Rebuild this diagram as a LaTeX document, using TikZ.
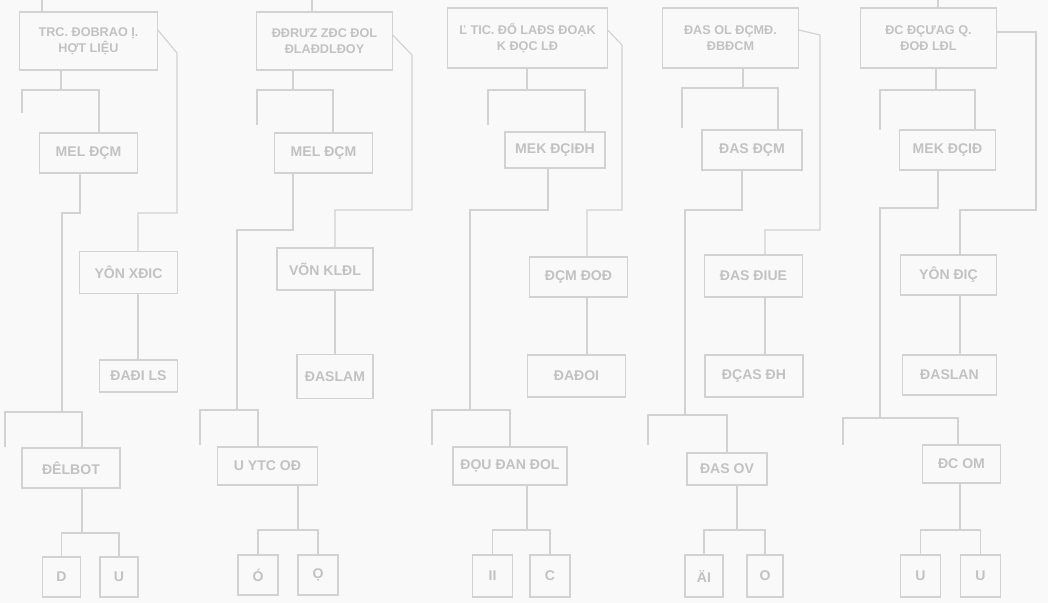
\documentclass[tikz,border=0pt]{standalone}
\usepackage{fontspec}
\setmainfont{Liberation Sans}
\usepackage{tikz}
\usetikzlibrary{positioning}
\definecolor{boxline}{HTML}{D2D2D2}
\definecolor{boxtext}{HTML}{C2C2C2}
\definecolor{paper}{HTML}{F9F9F9}
\tikzstyle{box} = [draw=boxline, line width=0.8pt, inner sep=1pt, text=boxtext, font=\fontsize{10}{12}\selectfont\bfseries, align=center]
\tikzstyle{topbox} = [box, font=\fontsize{9}{11}\selectfont\bfseries]
\tikzstyle{link} = [draw=boxline, line width=0.8pt]

\begin{document}
\begin{tikzpicture}[x=0.025cm, y=-0.025cm]
        % Bounding box
        \useasboundingbox (0,0) rectangle (1048,603);
        \fill[paper] (0,0) rectangle (1048,603);

        % Column 1
        \node[topbox, minimum width=3.43cm, minimum height=1.45cm] (c1top) at (88.5,41) {TRC. ĐOBRAO Ị.\\HỢT LIỆU};
        \node[box, minimum width=2.43cm, minimum height=1.0cm]  (c1a) at (88.5,153)  {MEL ĐÇM};
        \node[box, minimum width=2.43cm, minimum height=1.03cm] (c1b) at (128.5,272.5) {YÔN XĐIC};
        \node[box, minimum width=1.93cm, minimum height=0.8cm]  (c1c) at (138.5,376) {ĐAĐI LS};
        \node[box, minimum width=2.45cm, minimum height=1.0cm]  (c1d) at (71,468)    {ĐÊLBOT};
        \node[box, minimum width=0.93cm, minimum height=1.0cm]  (c1l) at (61.5,577)  {D};
        \node[box, minimum width=0.95cm, minimum height=1.0cm]  (c1r) at (119,577)   {U};

        \coordinate (c1in) at (42,0);
        \coordinate (c1s)  at (61,90);
        \coordinate (c1sl) at (22,113);
        \coordinate (c1sr) at (99,90);
        \coordinate (c1j)  at (80,213);
        \coordinate (c1k)  at (62,213);
        \coordinate (c1ml) at (5,447);
        \coordinate (c1mr) at (82,412);
        \coordinate (c1u)  at (177,53);
        \coordinate (c1v)  at (138,213);
        \coordinate (c1n)  at (82,533);

        \draw[link] (c1in) -- (c1top.north -| c1in);
        \draw[link] (c1top.south -| c1s) -- (c1s);
        \draw[link] (c1sl) |- (c1sr) -- (c1a.north -| c1sr);
        \draw[link] (c1a.south -| c1j) -- (c1j) -- (c1k) -- (c1k |- c1mr);
        \draw[link] (c1ml) |- (c1mr) -- (c1d.north -| c1mr);
        \draw[link] ([yshift=0.28cm]c1top.east) -- (c1u) |- (c1v) -- (c1b.north -| c1v);
        \draw[link] (c1b.south -| c1v) -- (c1c.north -| c1v);
        \draw[link] (c1d.south -| c1n) -- (c1n);
        \draw[link] (c1l.north) |- (c1n) -| (c1r.north);

        % Column 2
        \node[topbox, minimum width=3.38cm, minimum height=1.45cm] (c2top) at (324.5,41) {ĐĐRƯZ ZĐC ĐOL\\ĐLAĐDLĐOY};
        \node[box, minimum width=2.43cm, minimum height=1.0cm]  (c2a) at (323.5,153) {MEL ĐÇM};
        \node[box, minimum width=2.4cm,  minimum height=1.05cm] (c2b) at (325,269)   {VÕN KLĐL};
        \node[box, minimum width=1.9cm,  minimum height=1.08cm] (c2c) at (335,376.5) {ĐASLAM};
        \node[box, minimum width=2.48cm, minimum height=0.95cm] (c2d) at (267.5,466) {U YTC OĐ};
        \node[box, minimum width=1.0cm,  minimum height=1.0cm]  (c2l) at (258,575)   {Ó};
        \node[box, minimum width=1.0cm,  minimum height=1.0cm]  (c2r) at (318,575)   {Ọ};

        \coordinate (c2in) at (312,0);
        \coordinate (c2s)  at (293,90);
        \coordinate (c2sl) at (257,125);
        \coordinate (c2sr) at (333,90);
        \coordinate (c2j)  at (293,230);
        \coordinate (c2k)  at (237,230);
        \coordinate (c2ml) at (200,445);
        \coordinate (c2mr) at (258,410);
        \coordinate (c2u)  at (412,55);
        \coordinate (c2v)  at (335,210);
        \coordinate (c2n)  at (298,530);

        \draw[link] (c2in) -- (c2top.north -| c2in);
        \draw[link] (c2top.south -| c2s) -- (c2s);
        \draw[link] (c2sl) |- (c2sr) -- (c2a.north -| c2sr);
        \draw[link] (c2a.south -| c2j) -- (c2j) -- (c2k) -- (c2k |- c2mr);
        \draw[link] (c2ml) |- (c2mr) -- (c2d.north -| c2mr);
        \draw[link] ([yshift=0.15cm]c2top.east) -- (c2u) |- (c2v) -- (c2b.north -| c2v);
        \draw[link] (c2b.south -| c2v) -- (c2c.north -| c2v);
        \draw[link] (c2d.south -| c2n) -- (c2n);
        \draw[link] (c2l.north) |- (c2n) -| (c2r.north);

        % Column 3
        \node[topbox, minimum width=3.98cm, minimum height=1.5cm]  (c3top) at (527.5,38) {Ľ TIC. ĐỔ LAĐS ĐOẠK\\K ĐỌC LĐ};
        \node[box, minimum width=2.5cm,  minimum height=0.9cm]  (c3a) at (555,150)   {MEK ĐÇIĐH};
        \node[box, minimum width=2.43cm, minimum height=1.0cm]  (c3b) at (578.5,277) {ĐÇM ĐOĐ};
        \node[box, minimum width=2.43cm, minimum height=1.05cm] (c3c) at (576.5,376) {ĐAĐOI};
        \node[box, minimum width=2.85cm, minimum height=0.95cm] (c3d) at (510,466)   {ĐỌU ĐAN ĐOL};
        \node[box, minimum width=0.98cm, minimum height=1.05cm] (c3l) at (492.5,576) {II};
        \node[box, minimum width=1.0cm,  minimum height=1.05cm] (c3r) at (550,576)   {C};

        \coordinate (c3s)  at (527,90);
        \coordinate (c3sl) at (488,125);
        \coordinate (c3sr) at (585,90);
        \coordinate (c3j)  at (548,210);
        \coordinate (c3k)  at (470,210);
        \coordinate (c3ml) at (432,445);
        \coordinate (c3mr) at (510,410);
        \coordinate (c3u)  at (622,45);
        \coordinate (c3v)  at (587,210);
        \coordinate (c3n)  at (527,530);

        \draw[link] (c3top.south -| c3s) -- (c3s);
        \draw[link] (c3sl) |- (c3sr) -- (c3a.north -| c3sr);
        \draw[link] (c3a.south -| c3j) -- (c3j) -- (c3k) -- (c3k |- c3mr);
        \draw[link] (c3ml) |- (c3mr) -- (c3d.north -| c3mr);
        \draw[link] ([yshift=0.2cm]c3top.east) -- (c3u) |- (c3v) -- (c3b.north -| c3v);
        \draw[link] (c3b.south -| c3v) -- (c3c.north -| c3v);
        \draw[link] (c3d.south -| c3n) -- (c3n);
        \draw[link] (c3l.north) |- (c3n) -| (c3r.north);

        % Column 4
        \node[topbox, minimum width=3.38cm, minimum height=1.5cm]  (c4top) at (730.5,38) {ĐAS OL ĐÇMĐ.\\ĐBĐCM};
        \node[box, minimum width=2.5cm,  minimum height=1.0cm]  (c4a) at (752,150)   {ĐAS ĐÇM};
        \node[box, minimum width=2.43cm, minimum height=1.05cm] (c4b) at (753.5,276) {ĐAS ĐIUE};
        \node[box, minimum width=2.45cm, minimum height=1.05cm] (c4c) at (754,376)   {ĐÇAS ĐH};
        \node[box, minimum width=2.0cm,  minimum height=0.8cm]  (c4d) at (727,469)   {ĐAS OV};
        \node[box, minimum width=0.95cm, minimum height=1.05cm] (c4l) at (704,576)   {ÄI};
        \node[box, minimum width=0.9cm,  minimum height=1.05cm] (c4r) at (765,576)   {O};

        \coordinate (c4s)  at (743,88);
        \coordinate (c4sl) at (682,128);
        \coordinate (c4sr) at (778,88);
        \coordinate (c4j)  at (742,210);
        \coordinate (c4k)  at (685,210);
        \coordinate (c4ml) at (648,445);
        \coordinate (c4mr) at (727,415);
        \coordinate (c4u)  at (820,35);
        \coordinate (c4v)  at (765,230);
        \coordinate (c4n)  at (737,530);

        \draw[link] (c4top.south -| c4s) -- (c4s);
        \draw[link] (c4sl) |- (c4sr) -- (c4a.north -| c4sr);
        \draw[link] (c4a.south -| c4j) -- (c4j) -- (c4k) -- (c4k |- c4mr);
        \draw[link] (c4ml) |- (c4mr) -- (c4d.north -| c4mr);
        \draw[link] ([yshift=0.2cm]c4top.east) -- (c4u) |- (c4v) -- (c4b.north -| c4v);
        \draw[link] (c4b.south -| c4v) -- (c4c.north -| c4v);
        \draw[link] (c4d.south -| c4n) -- (c4n);
        \draw[link] (c4l.north) |- (c4n) -| (c4r.north);

        % Column 5
        \node[topbox, minimum width=3.38cm, minimum height=1.5cm]  (c5top) at (928.5,38) {ĐC ĐÇƯAG Q.\\ĐOĐ LĐL};
        \node[box, minimum width=2.38cm, minimum height=1.0cm]  (c5a) at (947.5,150) {MEK ĐÇIĐ};
        \node[box, minimum width=2.38cm, minimum height=1.0cm]  (c5b) at (948.5,275) {YÔN ĐIÇ};
        \node[box, minimum width=2.33cm, minimum height=1.0cm]  (c5c) at (949.5,375) {ĐASLAN};
        \node[box, minimum width=1.93cm, minimum height=0.95cm] (c5d) at (961.5,464) {ĐC OM};
        \node[box, minimum width=0.98cm, minimum height=1.05cm] (c5l) at (920.5,576) {U};
        \node[box, minimum width=0.98cm, minimum height=1.05cm] (c5r) at (980.5,576) {U};

        \coordinate (c5in) at (938,0);
        \coordinate (c5s)  at (936,90);
        \coordinate (c5sl) at (880,130);
        \coordinate (c5sr) at (975,90);
        \coordinate (c5j)  at (938,208);
        \coordinate (c5k)  at (880,208);
        \coordinate (c5ml) at (843,445);
        \coordinate (c5mr) at (958,418);
        \coordinate (c5u)  at (1036,32);
        \coordinate (c5v)  at (960,210);
        \coordinate (c5n)  at (960,530);

        \draw[link] (c5in) -- (c5top.north -| c5in);
        \draw[link] (c5top.south -| c5s) -- (c5s);
        \draw[link] (c5sl) |- (c5sr) -- (c5a.north -| c5sr);
        \draw[link] (c5a.south -| c5j) -- (c5j) -- (c5k) -- (c5k |- c5mr);
        \draw[link] (c5ml) |- (c5mr) -- (c5d.north -| c5mr);
        \draw[link] (c5top.east |- c5u) -- (c5u) |- (c5v) -- (c5b.north -| c5v);
        \draw[link] (c5b.south -| c5v) -- (c5c.north -| c5v);
        \draw[link] (c5d.south -| c5n) -- (c5n);
        \draw[link] (c5l.north) |- (c5n) -| (c5r.north);

    \end{tikzpicture}
\end{document}
